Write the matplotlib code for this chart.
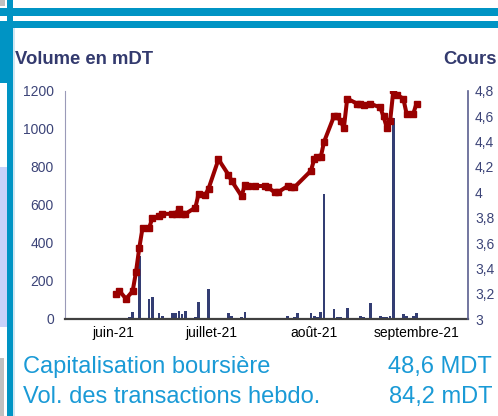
import matplotlib
matplotlib.use("Agg")
import matplotlib.pyplot as plt
from matplotlib.patches import Rectangle

# ---- data (day offsets from 1 June 2021) ----
price_days = [1, 2, 4, 6, 7, 8, 9, 11, 12, 14, 15, 18, 19, 20, 21, 22, 25, 26, 28, 29,
              32, 35, 36, 39, 40, 41, 43, 46, 47, 49, 50, 53, 54, 55, 60, 61, 62, 63, 64,
              67, 68, 69, 70, 71, 74, 75, 76, 78, 81, 82, 83, 84, 85, 86, 88, 89, 91, 92]
price = [3.20, 3.22, 3.16, 3.22, 3.37, 3.56, 3.72, 3.72, 3.80, 3.81, 3.83, 3.83, 3.83,
         3.87, 3.83, 3.83, 3.88, 3.99, 3.98, 4.03, 4.26, 4.14, 4.09, 3.97, 4.06, 4.05,
         4.05, 4.05, 4.04, 4.00, 4.00, 4.05, 4.04, 4.04, 4.17, 4.26, 4.28, 4.28, 4.40,
         4.60, 4.60, 4.56, 4.51, 4.74, 4.70, 4.70, 4.69, 4.70, 4.67, 4.60, 4.51, 4.56,
         4.81, 4.77, 4.74, 4.62, 4.62, 4.70]

vol_days = [1, 5, 6, 8, 11, 12, 14, 15, 18, 19, 20, 21, 22, 25, 26, 29, 35, 36, 39, 40,
            49, 50, 53, 55, 56, 60, 61, 62, 63, 64, 67, 68, 69, 71, 75, 76, 78, 81, 82,
            83, 84, 85, 88, 89, 91, 92]
volume = [5, 10, 35, 330, 105, 117, 30, 16, 30, 30, 42, 25, 42, 10, 88, 158, 30, 16, 9, 35,
          5, 5, 15, 10, 30, 30, 17, 10, 35, 658, 53, 10, 10, 58, 16, 10, 82, 16, 9,
          10, 16, 1056, 25, 16, 16, 30]

month_ticks = [0, 30, 61, 92]
month_labels = ["juin-21", "juillet-21", "août-21", "septembre-21"]
vol_ticks = [0, 200, 400, 600, 800, 1000, 1200]
price_ticks = [3.0, 3.2, 3.4, 3.6, 3.8, 4.0, 4.2, 4.4, 4.6, 4.8]
price_labels = ["3", "3,2", "3,4", "3,6", "3,8", "4", "4,2", "4,4", "4,6", "4,8"]

plt.rcParams['font.family'] = ['Liberation Sans', 'DejaVu Sans']

W, H = 498, 416
fig = plt.figure(figsize=(W / 100, H / 100), dpi=100)

BLUE = "#0094c4"
NAVY = "#333d73"
LBLUE = "#1a9ad6"


def frect(x, y, w, h, color):
    fig.patches.append(Rectangle((x / W, 1 - (y + h) / H), w / W, h / H,
                                 transform=fig.transFigure, color=color, zorder=0, lw=0))

# decorative frame
frect(0, 0, 5, 6, "#c0c0c0")
frect(0, 8, W, 8, BLUE)
frect(0, 21, W, 7, BLUE)
frect(0, 28, 13, 55, BLUE)
frect(7, 0, 6, H, BLUE)
frect(0, 167, 7, 160, "#c8d2fa")
frect(0, 358, 4, 58, "#c0c0c0")
frect(13, 28, 2, H - 28, "#cfe6f2")

ax = fig.add_axes([65 / W, 1 - 319 / H, (468 - 65) / W, (319 - 91) / H])
ax.bar(vol_days, volume, width=0.8, color=NAVY, zorder=2)
ax.set_xlim(-14.5, 107.6)
ax.set_ylim(0, 1200)
ax.set_yticks(vol_ticks)
ax.set_yticklabels([str(v) for v in vol_ticks])
ax.set_xticks(month_ticks)
ax.set_xticklabels(month_labels)
ax.tick_params(axis='y', length=0, pad=8, labelsize=10, labelcolor="#3c4478")
ax.tick_params(axis='x', length=0, pad=5, labelsize=10, labelcolor="black")
for s in ['top', 'right']:
    ax.spines[s].set_visible(False)
ax.spines['left'].set_color("#9a9ab8")
ax.spines['bottom'].set_color("#404040")
ax.spines['bottom'].set_linewidth(1.6)

ax2 = ax.twinx()
ax2.plot(price_days, price, color="#990000", lw=2.9, marker='s', markersize=4.8,
         markerfacecolor="#990000", markeredgecolor="#990000", zorder=3)
ax2.set_ylim(3.0, 4.8)
ax2.set_yticks(price_ticks)
ax2.set_yticklabels(price_labels)
ax2.tick_params(axis='y', length=0, pad=5, labelsize=10, labelcolor="#3c4478")
for s in ['top', 'left', 'bottom']:
    ax2.spines[s].set_visible(False)
ax2.spines['right'].set_color("#5a5f8f")
ax2.spines['right'].set_linewidth(1.2)

# titles
fig.text(15 / W, 1 - 64 / H, "Volume en mDT", fontsize=13.3, fontweight='bold',
         color="#333a6e", ha='left', va='baseline')
fig.text(497 / W, 1 - 64 / H, "Cours", fontsize=13.3, fontweight='bold',
         color="#333a6e", ha='right', va='baseline')

fig.text(23 / W, 1 - 373 / H, "Capitalisation boursière", fontsize=17, color=LBLUE,
         ha='left', va='baseline')
fig.text(492 / W, 1 - 373 / H, "48,6 MDT", fontsize=17, color=LBLUE,
         ha='right', va='baseline')
fig.text(23 / W, 1 - 403 / H, "Vol. des transactions hebdo.", fontsize=17, color=LBLUE,
         ha='left', va='baseline')
fig.text(492 / W, 1 - 403 / H, "84,2 mDT", fontsize=17, color=LBLUE,
         ha='right', va='baseline')

fig.savefig("out.png", dpi=100)
